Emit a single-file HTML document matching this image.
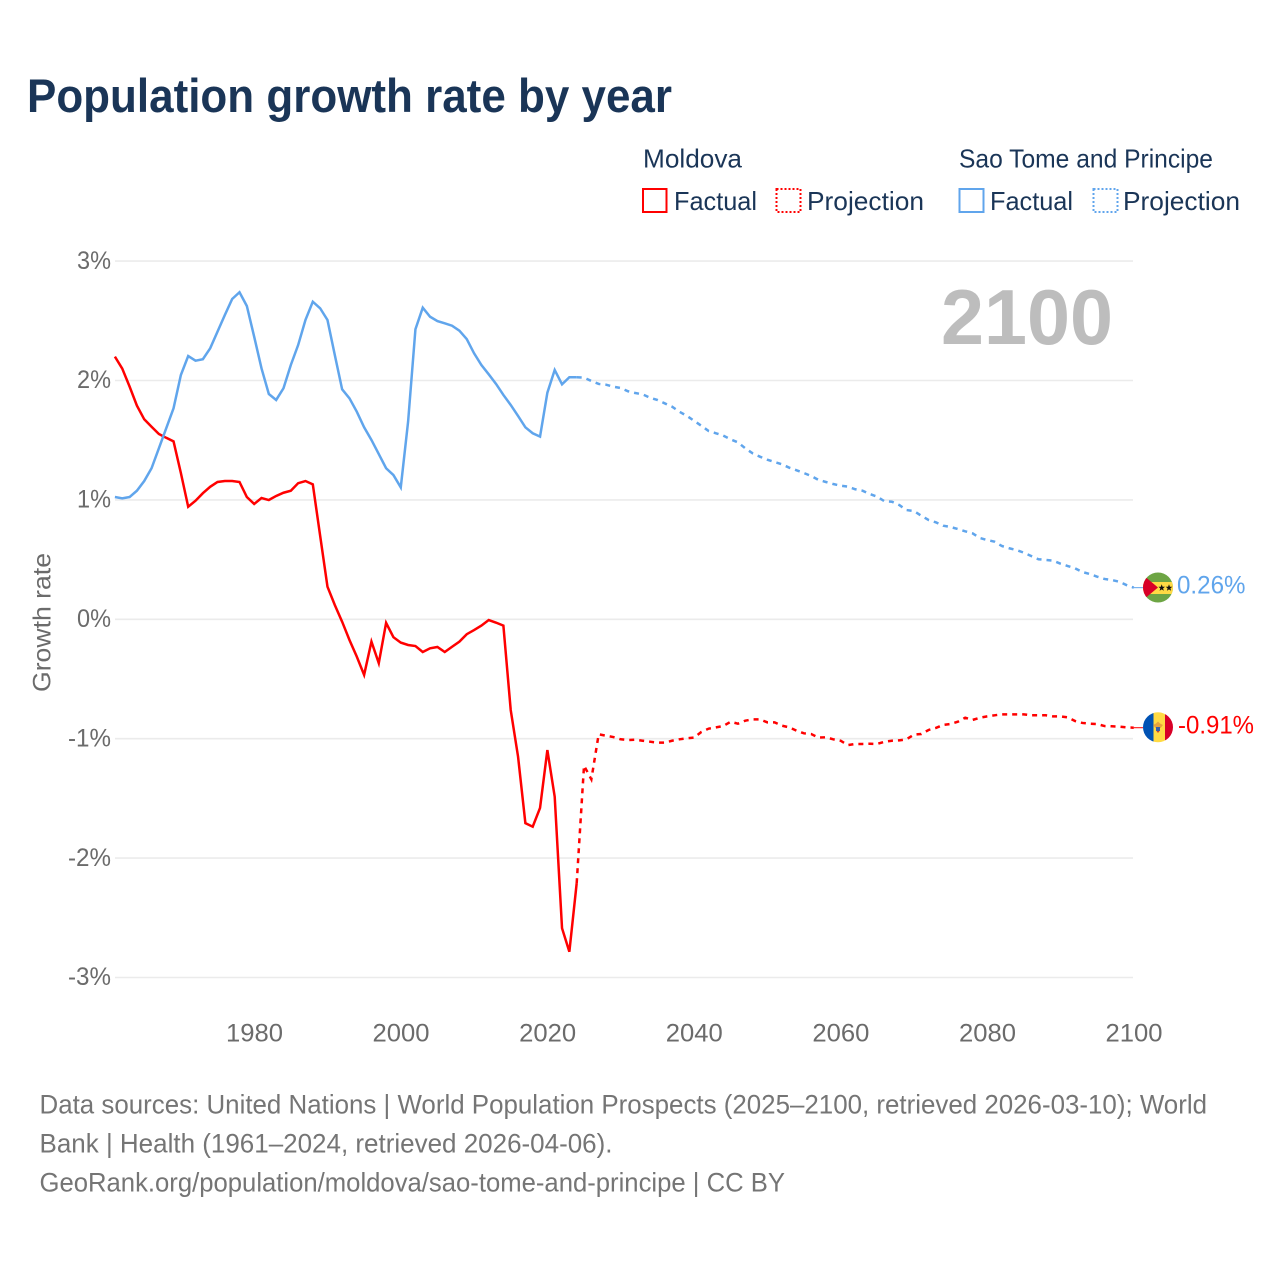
<!DOCTYPE html>
<html lang="en">
<head>
<meta charset="utf-8">
<title>Population growth rate by year</title>
<style>
html,body{margin:0;padding:0;background:#fff;}
svg{display:block;font-family:"Liberation Sans",sans-serif;}
</style>
</head>
<body>
<svg id="chart" xmlns="http://www.w3.org/2000/svg" width="1280" height="1280" viewBox="0 0 1280 1280">
<rect width="1280" height="1280" fill="#fff"/>
<text x="27" y="112" font-size="47.5" font-weight="700" fill="#1a3557" textLength="645" lengthAdjust="spacingAndGlyphs">Population growth rate by year</text>

<g font-size="26" fill="#1a3557">
<text x="643" y="167.5" textLength="99" lengthAdjust="spacingAndGlyphs">Moldova</text>
<text x="959" y="167.5" textLength="254" lengthAdjust="spacingAndGlyphs">Sao Tome and Principe</text>
<rect x="643" y="189" width="23.5" height="23" fill="none" stroke="#ff0000" stroke-width="2"/>
<text x="674" y="210" textLength="83" lengthAdjust="spacingAndGlyphs">Factual</text>
<rect x="776.5" y="189" width="24" height="23" fill="none" stroke="#ff0000" stroke-width="2" stroke-dasharray="2 2"/>
<text x="807" y="210" textLength="117" lengthAdjust="spacingAndGlyphs">Projection</text>
<rect x="959.5" y="189" width="24" height="23" fill="none" stroke="#60a5ec" stroke-width="2"/>
<text x="990" y="210" textLength="83" lengthAdjust="spacingAndGlyphs">Factual</text>
<rect x="1093.5" y="189" width="24" height="23" fill="none" stroke="#60a5ec" stroke-width="2" stroke-dasharray="2 2"/>
<text x="1123" y="210" textLength="117" lengthAdjust="spacingAndGlyphs">Projection</text>
</g>

<g id="grid"></g>
<g id="y-labels" font-size="25" fill="#6b6b6b" text-anchor="end"></g>
<g id="x-labels" font-size="25" fill="#6b6b6b" text-anchor="middle"></g>

<text transform="translate(50.5 692) rotate(-90)" font-size="25" fill="#6b6b6b" textLength="139" lengthAdjust="spacingAndGlyphs">Growth rate</text>
<text x="941" y="344" font-size="78" font-weight="700" fill="#bdbdbd" textLength="172" lengthAdjust="spacingAndGlyphs">2100</text>

<g id="series"></g>

<g id="flag-sao-tome">
<clipPath id="clip-stp"><circle cx="1158" cy="587.5" r="15"/></clipPath>
<g clip-path="url(#clip-stp)">
<rect x="1143" y="572" width="30" height="31" fill="#6da544"/>
<rect x="1143" y="582" width="30" height="12" fill="#ffda44"/>
<polygon points="1143,575 1158,587.5 1143,600" fill="#d80027"/>
<polygon points="1161.7,584.3 1162.6,586.8 1165,586.8 1163.1,588.4 1163.8,590.8 1161.7,589.4 1159.6,590.8 1160.3,588.4 1158.4,586.8 1160.8,586.8" fill="#111"/>
<polygon points="1169,584.3 1169.9,586.8 1172.3,586.8 1170.4,588.4 1171.1,590.8 1169,589.4 1166.9,590.8 1167.6,588.4 1165.7,586.8 1168.1,586.8" fill="#111"/>
</g>
</g>
<g id="flag-moldova">
<clipPath id="clip-mda"><circle cx="1158" cy="727.3" r="15"/></clipPath>
<g clip-path="url(#clip-mda)">
<rect x="1143" y="712" width="10.5" height="31" fill="#0052b4"/>
<rect x="1153.5" y="712" width="11.5" height="31" fill="#ffda44"/>
<rect x="1165" y="712" width="8" height="31" fill="#d80027"/>
<polygon points="1153,725 1156,723.5 1158,721.5 1160,723.5 1163,725 1160.5,728 1155.5,728" fill="#e8a33d"/>
<rect x="1156" y="727" width="4" height="4" fill="#3a5fa8"/>
<polygon points="1156.5,731 1159.5,731 1158,733" fill="#c23b3b"/>
</g>
</g>

<text x="1177" y="593.5" font-size="25" fill="#60a5ec" textLength="68.5" lengthAdjust="spacingAndGlyphs">0.26%</text>
<text x="1178" y="733.5" font-size="25" fill="#ff0000" textLength="76" lengthAdjust="spacingAndGlyphs">-0.91%</text>

<g font-size="26.5" fill="#757575">
<text x="39.5" y="1113.5" textLength="1167.5" lengthAdjust="spacingAndGlyphs">Data sources: United Nations | World Population Prospects (2025–2100, retrieved 2026-03-10); World</text>
<text x="39.5" y="1152.5" textLength="573" lengthAdjust="spacingAndGlyphs">Bank | Health (1961–2024, retrieved 2026-04-06).</text>
<text x="39.5" y="1191.5" textLength="745.5" lengthAdjust="spacingAndGlyphs">GeoRank.org/population/moldova/sao-tome-and-principe | CC BY</text>
</g>
</svg>

<script>
var yTicks = [3, 2, 1, 0, -1, -2, -3];
var yTickLabels = ["3%", "2%", "1%", "0%", "-1%", "-2%", "-3%"];
var xTicks = [1980, 2000, 2020, 2040, 2060, 2080, 2100];
var xTickLabels = ["1980", "2000", "2020", "2040", "2060", "2080", "2100"];
var factualStartYear = 1961;
var projectionStartYear = 2024;
var moldovaFactual = [2.20,2.10,1.95,1.79,1.675,1.613,1.552,1.52,1.49,1.225,0.943,0.993,1.056,1.11,1.15,1.158,1.158,1.15,1.024,0.966,1.016,0.999,1.033,1.06,1.077,1.14,1.158,1.13,0.70,0.273,0.12,-0.02,-0.173,-0.313,-0.466,-0.187,-0.367,-0.03,-0.15,-0.195,-0.215,-0.224,-0.274,-0.243,-0.232,-0.274,-0.23,-0.187,-0.125,-0.09,-0.053,-0.006,-0.028,-0.053,-0.76,-1.15,-1.707,-1.737,-1.58,-1.095,-1.486,-2.587,-2.784,-2.21];
var moldovaProjection = [-2.21,-1.226,-1.34,-0.963,-0.975,-0.986,-1.005,-1.011,-1.008,-1.017,-1.025,-1.033,-1.033,-1.017,-1.005,-0.997,-0.991,-0.944,-0.916,-0.905,-0.894,-0.858,-0.874,-0.849,-0.838,-0.838,-0.863,-0.863,-0.891,-0.905,-0.933,-0.955,-0.961,-0.991,-0.988,-1.005,-1.017,-1.053,-1.044,-1.044,-1.042,-1.044,-1.025,-1.017,-1.014,-1.005,-0.966,-0.961,-0.927,-0.91,-0.885,-0.877,-0.858,-0.824,-0.843,-0.824,-0.813,-0.804,-0.796,-0.796,-0.796,-0.796,-0.804,-0.804,-0.804,-0.813,-0.813,-0.821,-0.852,-0.868,-0.874,-0.877,-0.894,-0.896,-0.899,-0.905,-0.908];
var saoTomeFactual = [1.024,1.013,1.024,1.077,1.158,1.265,1.432,1.6,1.767,2.046,2.205,2.166,2.178,2.27,2.409,2.549,2.683,2.739,2.624,2.367,2.102,1.887,1.837,1.935,2.13,2.297,2.507,2.66,2.605,2.507,2.214,1.926,1.851,1.739,1.608,1.502,1.384,1.265,1.208,1.105,1.655,2.429,2.61,2.534,2.498,2.479,2.459,2.417,2.347,2.228,2.13,2.052,1.971,1.879,1.795,1.703,1.608,1.558,1.53,1.898,2.088,1.968,2.027,2.027];
var saoTomeProjection = [2.027,2.024,1.996,1.971,1.965,1.948,1.937,1.91,1.895,1.884,1.856,1.837,1.809,1.781,1.739,1.705,1.663,1.621,1.577,1.558,1.538,1.507,1.482,1.432,1.39,1.362,1.337,1.317,1.298,1.27,1.248,1.225,1.2,1.167,1.15,1.133,1.119,1.111,1.089,1.077,1.049,1.027,0.988,0.985,0.957,0.915,0.907,0.868,0.832,0.812,0.784,0.773,0.756,0.737,0.72,0.681,0.664,0.65,0.614,0.595,0.58,0.558,0.53,0.503,0.497,0.491,0.466,0.446,0.427,0.396,0.379,0.357,0.338,0.329,0.315,0.287,0.265];

var NS = "http://www.w3.org/2000/svg";
function xScale(year) { return 114.9 + (year - 1961) * 7.33; }
function yScale(v) { return 619.3 - v * 119.4; }

function linePath(values, startYear) {
  var d = "";
  for (var i = 0; i < values.length; i++) {
    d += (i ? "L" : "M") + xScale(startYear + i).toFixed(2) + " " + yScale(values[i]).toFixed(2);
  }
  return d;
}

var grid = document.getElementById("grid");
var yLabels = document.getElementById("y-labels");
var xLabels = document.getElementById("x-labels");
var series = document.getElementById("series");

yTicks.forEach(function (t, i) {
  var line = document.createElementNS(NS, "line");
  
  
  line.setAttribute("x1", 115);
  line.setAttribute("x2", 1133);
  line.setAttribute("y1", yScale(t));
  line.setAttribute("y2", yScale(t));
  line.setAttribute("stroke", "#ebebeb");
  line.setAttribute("stroke-width", "1.6");
  grid.appendChild(line);

  var label = document.createElementNS(NS, "text");
  
  
  label.setAttribute("x", 111);
  label.setAttribute("y", yScale(t) + 7.7);
  label.setAttribute("textLength", 9 * yTickLabels[i].length + 16);
  label.setAttribute("lengthAdjust", "spacingAndGlyphs");
  label.textContent = yTickLabels[i];
  yLabels.appendChild(label);
});

xTicks.forEach(function (t, i) {
  var label = document.createElementNS(NS, "text");
  
  
  label.setAttribute("x", xScale(t) + 0.3);
  label.setAttribute("y", 1041.5);
  label.setAttribute("textLength", 57);
  label.setAttribute("lengthAdjust", "spacingAndGlyphs");
  label.textContent = xTickLabels[i];
  xLabels.appendChild(label);
});

function addLine(name, values, startYear, color, dashed) {
  var p = document.createElementNS(NS, "path");
  
  
  p.setAttribute("d", linePath(values, startYear));
  p.setAttribute("fill", "none");
  p.setAttribute("stroke", color);
  p.setAttribute("stroke-width", "2.5");
  p.setAttribute("stroke-linejoin", "miter");
  if (dashed) p.setAttribute("stroke-dasharray", "5 5");
  series.appendChild(p);
}

function addConnector(name, value, color) {
  var c = document.createElementNS(NS, "line");
  
  
  c.setAttribute("x1", xScale(2100));
  c.setAttribute("x2", 1143);
  c.setAttribute("y1", yScale(value));
  c.setAttribute("y2", yScale(value));
  c.setAttribute("stroke", color);
  c.setAttribute("stroke-width", "1");
  series.appendChild(c);
}

addLine("moldova-factual-line", moldovaFactual, factualStartYear, "#ff0000", false);
addLine("moldova-projection-line", moldovaProjection, projectionStartYear, "#ff0000", true);
addLine("sao-tome-factual-line", saoTomeFactual, factualStartYear, "#60a5ec", false);
addLine("sao-tome-projection-line", saoTomeProjection, projectionStartYear, "#60a5ec", true);
addConnector("moldova-end-connector", moldovaProjection[moldovaProjection.length - 1], "#ff0000");
addConnector("sao-tome-end-connector", saoTomeProjection[saoTomeProjection.length - 1], "#60a5ec");
</script>
</body>
</html>
